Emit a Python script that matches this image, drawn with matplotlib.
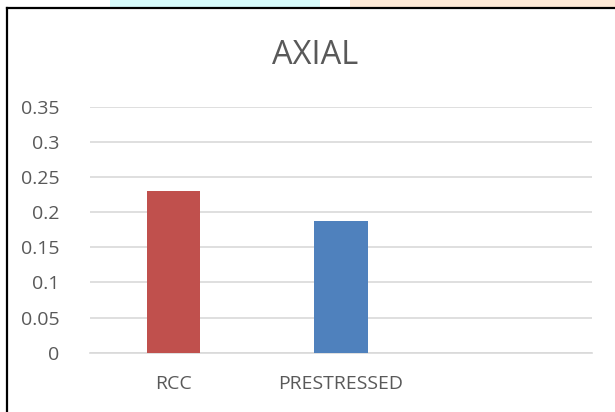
import matplotlib.pyplot as plt
from matplotlib.patches import Rectangle
from matplotlib.lines import Line2D

# axial values per section type (third slot left empty)
categories = ['RCC', 'PRESTRESSED', '']
values = [0.230, 0.187, 0]
colors = ['#C0504D', '#4F81BD', 'none']
yticks = [0, 0.05, 0.1, 0.15, 0.2, 0.25, 0.3, 0.35]

plt.rcParams['font.family'] = ['Open Sans', 'DejaVu Sans']

fig = plt.figure(figsize=(6.15, 4.12), dpi=100)

# faint coloured strips along the very top edge
fig.patches.append(Rectangle((110/615, 1 - 7/412), 210/615, 7/412, transform=fig.transFigure,
                             facecolor='#d6fafa', edgecolor='none'))
fig.patches.append(Rectangle((350/615, 1 - 7/412), 265/615, 7/412, transform=fig.transFigure,
                             facecolor='#fde9d6', edgecolor='none'))

# chart frame: top and left edges
fig.lines.append(Line2D([6.5/615, 6.5/615], [0, 1 - 7.5/412], transform=fig.transFigure,
                        color='black', lw=1.6))
fig.lines.append(Line2D([6.5/615, 1], [1 - 7.5/412, 1 - 7.5/412], transform=fig.transFigure,
                        color='black', lw=1.6))

ax = fig.add_axes([90/615, 59.3/412, 502/615, 246/412])
x = range(len(categories))
ax.bar(x, values, width=0.317, color=colors, zorder=3)

ax.set_ylim(0, 0.35)
ax.set_xlim(-0.5, len(categories) - 0.5)
ax.set_yticks(yticks)
ax.set_yticklabels(['0', '0.05', '0.1', '0.15', '0.2', '0.25', '0.3', '0.35'])
ax.set_xticks(list(x))
ax.set_xticklabels(categories)
ax.grid(axis='y', color='#d9d9d9', lw=1.2, zorder=0)
ax.tick_params(length=0, labelsize=14, colors='#595959')
ax.tick_params(axis='y', pad=22)
ax.tick_params(axis='x', pad=16)
for s in ['top', 'right', 'left']:
    ax.spines[s].set_visible(False)
ax.spines['bottom'].set_color('#d9d9d9')
ax.spines['bottom'].set_linewidth(1.2)

fig.text(315/615, 1 - 55/412, 'AXIAL', ha='center', va='center', fontsize=23.5, color='#595959')

fig.savefig('out.png', dpi=100)
